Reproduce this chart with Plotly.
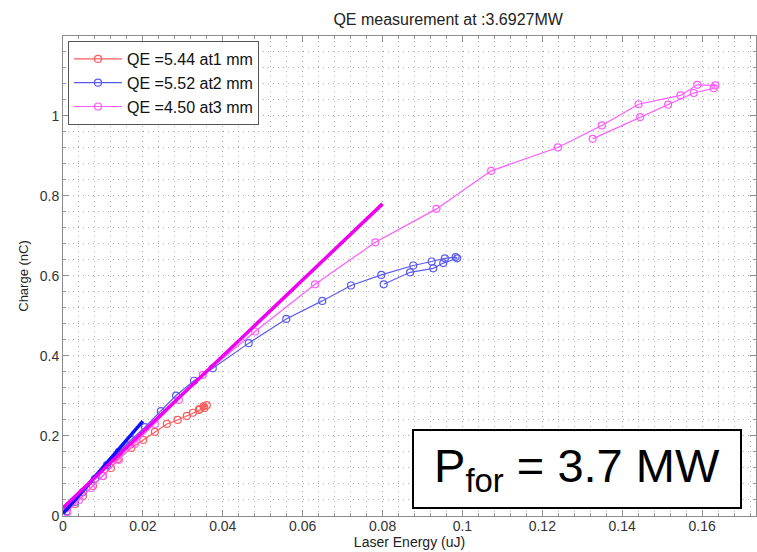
import plotly.graph_objects as go

# ---- data ----
red_x = [0.001, 0.003, 0.005, 0.0075, 0.0100, 0.0120, 0.0137, 0.0171, 0.0201, 0.0230, 0.0260, 0.0287,
         0.0310, 0.0325, 0.0340, 0.0354, 0.0360, 0.0352, 0.0343]
red_y = [0.010, 0.030, 0.050, 0.075, 0.100, 0.120, 0.1425, 0.170, 0.190, 0.210, 0.230, 0.240,
         0.250, 0.258, 0.265, 0.270, 0.277, 0.274, 0.268]

blue_x = [0.001, 0.003, 0.005, 0.008, 0.011, 0.014, 0.017, 0.0205, 0.0245, 0.0283, 0.0328, 0.0375,
          0.0465, 0.0559, 0.0649, 0.0721, 0.0797, 0.0877, 0.0923, 0.0956, 0.0983,
          0.0987, 0.0952, 0.0927, 0.0869, 0.0803]
blue_y = [0.012, 0.035, 0.060, 0.093, 0.127, 0.160, 0.190, 0.222, 0.262, 0.301, 0.338, 0.369,
          0.432, 0.4925, 0.5375, 0.576, 0.6025, 0.626, 0.636, 0.644, 0.647,
          0.644, 0.632, 0.619, 0.609, 0.579]

mag_x = [0.001, 0.004, 0.007, 0.010, 0.014, 0.018, 0.023, 0.029, 0.035, 0.0481, 0.0631, 0.0782,
         0.0935, 0.1072, 0.1239, 0.1349, 0.1441, 0.1546, 0.1588, 0.1633,
         0.1629, 0.1579, 0.1515, 0.1445, 0.1326]
mag_y = [0.010, 0.040, 0.070, 0.100, 0.140, 0.180, 0.230, 0.290, 0.3525, 0.461, 0.579, 0.684,
         0.7675, 0.8625, 0.921, 0.976, 1.029, 1.051, 1.0775, 1.076,
         1.069, 1.057, 1.028, 0.997, 0.9425]

blue_fit_x = [0.0, 0.020]
blue_fit_y = [0.006, 0.237]
mag_fit_x = [0.0, 0.080]
mag_fit_y = [0.020, 0.780]

names = ["QE =5.44 at1 mm", "QE =5.52 at2 mm", "QE =4.50 at3 mm"]

FONT = "Arial, Liberation Sans, sans-serif"
TXT = "#222222"

fig = go.Figure()
for xs, ys, nm, col in [(red_x, red_y, names[0], "#ff5a5a"),
                         (blue_x, blue_y, names[1], "#5a5af0"),
                         (mag_x, mag_y, names[2], "#ff5aff")]:
    fig.add_trace(go.Scatter(x=xs, y=ys, name=nm, mode="lines+markers",
                             line=dict(color=col, width=1.2),
                             marker=dict(symbol="circle-open", size=7, color=col, line=dict(width=1.2))))

fig.add_trace(go.Scatter(x=blue_fit_x, y=blue_fit_y, mode="lines", showlegend=False,
                         line=dict(color="#1010ff", width=3.5)))
fig.add_trace(go.Scatter(x=mag_fit_x, y=mag_fit_y, mode="lines", showlegend=False,
                         line=dict(color="#f000f0", width=3.5)))

axis_common = dict(showline=True, linecolor="#8c8c8c", linewidth=1, mirror="ticks",
                   ticks="inside", ticklen=6, tickcolor="#8c8c8c",
                   showgrid=True, gridcolor="#a8a8a8", griddash="1px,4px", gridwidth=1,
                   zeroline=False, automargin=False)

fig.update_xaxes(range=[0, 0.1735], dtick=0.02, tick0=0,
                 tickfont=dict(family=FONT, size=14, color="#333333"), ticklabelstandoff=-3,
                 title=dict(text="Laser Energy (uJ)", font=dict(family=FONT, size=14, color=TXT), standoff=0),
                 minor=dict(dtick=0.004, showgrid=True, gridcolor="#b4b4b4", griddash="1px,4px",
                            ticks="inside", ticklen=3, tickcolor="#9a9a9a"),
                 **axis_common)
fig.update_yaxes(range=[0, 1.1995], dtick=0.2, tick0=0,
                 tickfont=dict(family=FONT, size=14, color="#333333"),
                 title=dict(text="Charge (nC)", font=dict(family=FONT, size=13, color=TXT), standoff=8),
                 minor=dict(dtick=0.04, showgrid=True, gridcolor="#b4b4b4", griddash="1px,4px",
                            ticks="inside", ticklen=3, tickcolor="#9a9a9a"),
                 **axis_common)

fig.add_annotation(xref="paper", yref="paper", x=0.742, y=0.0977, xanchor="center", yanchor="middle",
                   text="P<sub>for</sub> = 3.7 MW", showarrow=False,
                   font=dict(family=FONT, size=47, color="black"),
                   bgcolor="white", bordercolor="black", borderwidth=2,
                   width=326, height=76, borderpad=0)

fig.update_layout(
    width=757, height=552,
    margin=dict(l=63, r=1, t=36, b=36),
    paper_bgcolor="white", plot_bgcolor="white",
    title=dict(text="QE measurement at :3.6927MW", x=0.592, xanchor="center", y=0.9656, yanchor="middle",
               font=dict(family=FONT, size=16, color=TXT)),
    legend=dict(x=0.0072, y=0.9896, xanchor="left", yanchor="top",
                bgcolor="white", bordercolor="#555555", borderwidth=1,
                font=dict(family=FONT, size=16, color="#111111"),
                tracegroupgap=0, itemwidth=48),
    showlegend=True,
)

fig.write_html("out.html")
